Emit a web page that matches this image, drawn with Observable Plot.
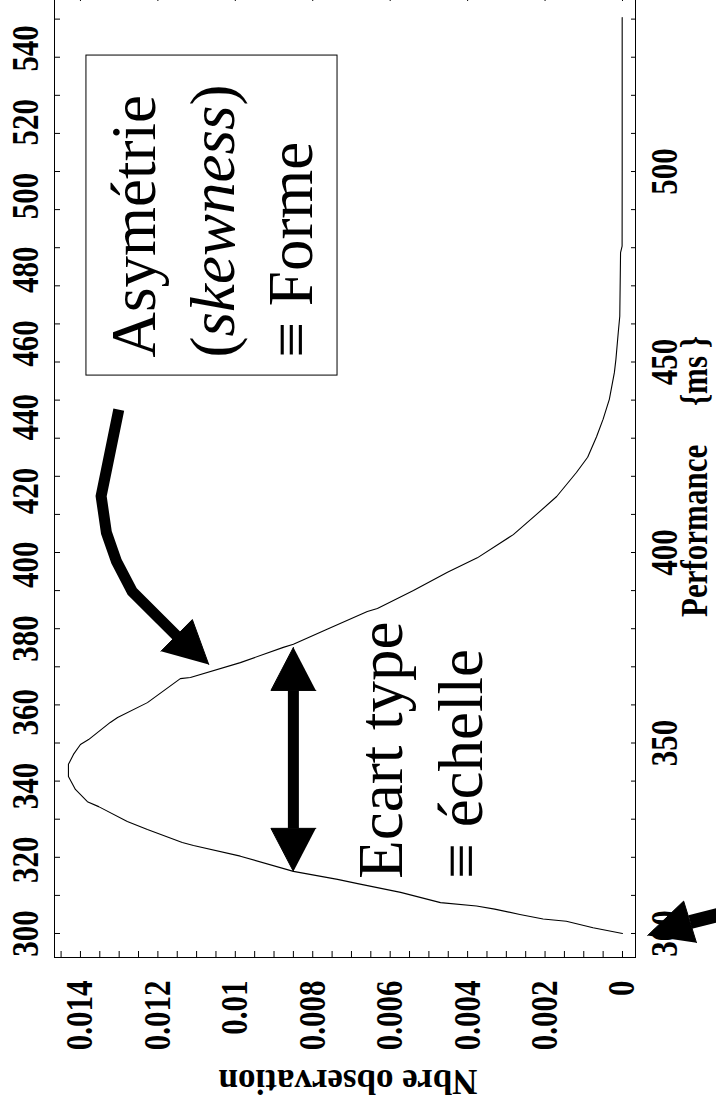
<!DOCTYPE html>
<html><head><meta charset="utf-8">
<script src="https://cdn.jsdelivr.net/npm/d3@7"></script>
<script src="https://cdn.jsdelivr.net/npm/@observablehq/plot@0.6"></script>
<style>
html,body{margin:0;padding:0;background:#fff;overflow:hidden;width:716px;height:1106px;}
#rot{position:absolute;left:0;top:0;width:1120px;height:716px;transform-origin:0 0;transform:translate(0px,1106px) rotate(-90deg);}
</style></head><body><div id="rot"></div>
<script>
// Density curve (performance in ms, density)
const perfMs = [300,301.5,303.2,303.8,305,306.4,307.2,308.1,310.8,313.1,314.2,316.3,320.3,323.1,323.9,327.3,329.4,333.3,334.6,337.8,341.2,344.4,347,349.6,350.9,355.4,356.7,360.6,366.9,367.2,371.1,375.1,375.9,380,384.5,385.3,390,394.8,398.6,404.7,410,414.7,421,425,430.4,435,440.2,447.2,450.7,457.7,462,478.7,480.4,500,520,540.4];
const density = [0,0.00076,0.00145,0.00205,0.00265,0.0033,0.00377,0.0047,0.00573,0.00684,0.00736,0.0085,0.00987,0.01108,0.01137,0.01227,0.01279,0.01353,0.01382,0.01413,0.01431,0.01431,0.01418,0.014,0.01379,0.01323,0.01304,0.01227,0.01142,0.01116,0.00987,0.00876,0.0085,0.0076,0.00659,0.00633,0.0054,0.00452,0.00375,0.00282,0.00222,0.0017,0.00119,0.0009,0.00067,0.0005,0.00034,0.00021,0.00017,0.00011,0.00007,0.00005,0.00001,0.000008,0.000008,0.000008];

// Axis ticks and labels
const xTicksMinor = d3.range(300, 541, 10);
const xLabelsBottom = [300, 350, 400, 450, 500];
const xLabelsTop = d3.range(300, 541, 20);
const topAxisRatio = 0.968; // the top label row is printed on a slightly compressed scale
const yTicksMinor = d3.range(0, 30).map(i => i * 0.0005);
const yLabels = [0, 0.002, 0.004, 0.006, 0.008, 0.01, 0.012, 0.014];
const xTitle = "Performance\u00a0\u00a0\u00a0\u00a0 {ms }";
const yTitle = "Nbre observation";

// Annotations (performance, density)
const boxLabel = "Asymétrie\n(skewness)\n≡ Forme";
const boxLabelAt = [451.2, 0.00801];
const boxPerf = [446.7, 530.7];
const boxDens = [0.00736, 0.013845];
const sdLabel = "Ecart type\n≡ échelle";
const sdLabelAt = [314.4, 0.003616];

// Arrows (performance, density)
const sdShaft = [[327.6, 0.0085], [363.8, 0.0085]];
const skewShaft = [[437.5, 0.01301], [414.8, 0.013466], [405.2, 0.013329], [397.7, 0.01307], [389.8, 0.012665], [378.2, 0.01152]];
const minShaft = [[303.0, -0.00175], [307.7, -0.00356]];
const arrowHeads = [
  [[316.3, 0.0085], [327.6, 0.00908], [327.6, 0.00792]],
  [[375.1, 0.0085], [363.8, 0.00908], [363.8, 0.00792]],
  [[370.6, 0.010686], [382.4, 0.01111], [374.1, 0.01192]],
  [[299.5, -0.00065], [308.5, -0.00158], [297.6, -0.00191]]
];

const serif = '"Liberation Serif", serif';
const fmtY = d => d === 0 ? "0" : String(+d.toFixed(3));
const bold = {fontWeight: "bold", fontFamily: serif};
const shaftStyle = {stroke: "black", strokeLinecap: "butt", strokeLinejoin: "miter", strokeMiterlimit: 10};

const plot = Plot.plot({
  width: 1120, height: 716,
  marginLeft: 148, marginRight: 10, marginTop: 54, marginBottom: 81,
  style: {fontFamily: serif, color: "black", background: "white"},
  x: {domain: [293.7, 546.2]},
  y: {domain: [-0.000336, 0.01467]},
  marks: [
    Plot.frame({stroke: "black", strokeWidth: 1}),
    Plot.axisX({anchor: "bottom", ticks: xTicksMinor, tickSize: -4, tickFormat: () => "", label: null}),
    Plot.axisX({anchor: "top", ticks: xTicksMinor, tickSize: -5, tickFormat: () => "", label: null}),
    Plot.axisX({anchor: "bottom", ticks: xLabelsBottom, tickSize: 0, tickPadding: 15, fontSize: 31, ...bold, label: null}),
    Plot.text(xLabelsTop, {x: d => 300 + (d - 300) * topAxisRatio, text: d => String(d), frameAnchor: "top", dy: -17, lineAnchor: "bottom", fontSize: 31, ...bold}),
    Plot.axisY({anchor: "left", ticks: yTicksMinor, tickSize: -7, tickFormat: () => "", label: null}),
    Plot.axisY({anchor: "right", ticks: yLabels, tickSize: -6, tickFormat: () => "", label: null}),
    Plot.axisY({anchor: "left", ticks: yLabels, tickSize: 0, tickPadding: 23, tickFormat: fmtY, fontSize: 31, ...bold, label: null}),
    Plot.text([xTitle], {text: d => d, frameAnchor: "bottom", dy: 71, lineAnchor: "bottom", textAnchor: "middle", fontSize: 31, ...bold}),
    Plot.text([yTitle], {text: d => d, frameAnchor: "left", dx: -112, dy: 3, rotate: -90, textAnchor: "middle", lineAnchor: "bottom", fontSize: 35, ...bold}),
    Plot.line(perfMs.map((p, i) => [p, density[i]]), {stroke: "black", strokeWidth: 1.1, strokeLinejoin: "round"}),
    Plot.rect([0], {x1: () => boxPerf[0], x2: () => boxPerf[1], y1: () => boxDens[0], y2: () => boxDens[1], fill: "white", stroke: "black", strokeWidth: 1}),
    Plot.text([boxLabelAt], {x: d => d[0], y: d => d[1], text: () => boxLabel, textAnchor: "start", lineAnchor: "bottom", lineHeight: 1.25, fontSize: 63, fontFamily: serif}),
    Plot.text([sdLabelAt], {x: d => d[0], y: d => d[1], text: () => sdLabel, textAnchor: "start", lineAnchor: "bottom", lineHeight: 1.28, fontSize: 63, fontFamily: serif}),
    Plot.line(sdShaft, {...shaftStyle, strokeWidth: 11}),
    Plot.line(skewShaft, {...shaftStyle, strokeWidth: 11}),
    Plot.line(minShaft, {...shaftStyle, strokeWidth: 14}),
    Plot.line(arrowHeads.flatMap((tri, k) => tri.map(p => ({p: p[0], d: p[1], k}))), {x: "p", y: "d", z: "k", fill: "black", stroke: "black", strokeWidth: 1, strokeLinejoin: "miter"})
  ]
});

const SVGNS = "http://www.w3.org/2000/svg";
const texts = [...plot.querySelectorAll("text")];
// italic "skewness"
texts.forEach(t => t.querySelectorAll("tspan").forEach(el => {
  if (el.textContent === "(skewness)") {
    el.textContent = "(";
    const it = document.createElementNS(SVGNS, "tspan");
    it.setAttribute("font-style", "italic");
    it.textContent = "skewness";
    el.appendChild(it);
    el.appendChild(document.createTextNode(")"));
  }
}));
// tall, narrow bold lettering of the print (tick labels and x title)
texts.forEach(t => {
  const s = t.textContent;
  if (/^[0-9.]+$/.test(s) || s.startsWith("Performance")) {
    t.setAttribute("transform", (t.getAttribute("transform") || "") + " scale(1,1.2)");
  }
});

document.getElementById("rot").appendChild(plot);
</script>
</body></html>
